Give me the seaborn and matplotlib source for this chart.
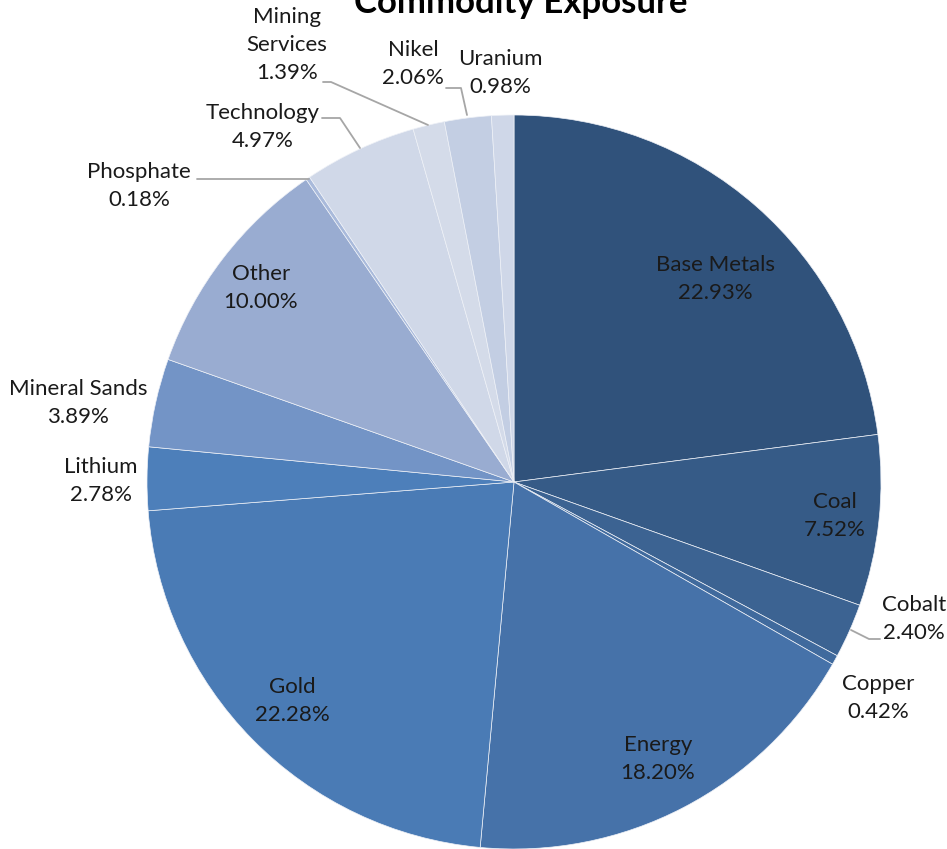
import numpy as np
import matplotlib
matplotlib.use("Agg")
import matplotlib.pyplot as plt
import seaborn as sns

# Données du graphique (sens horaire à partir de midi)
categories = ["Base Metals", "Coal", "Cobalt", "Copper", "Energy", "Gold", "Lithium",
              "Mineral Sands", "Other", "Phosphate", "Technology", "Mining\nServices",
              "Nikel", "Uranium"]
valeurs = [22.93, 7.52, 2.40, 0.42, 18.20, 22.28, 2.78, 3.89, 10.00, 0.18, 4.97, 1.39, 2.06, 0.98]
couleurs = ["#30527b", "#365b87", "#3c6392", "#406a9d", "#4672a9", "#4a7bb5", "#4d7fba",
            "#7394c6", "#99acd1", "#a9badb", "#d0d8e8", "#d4dbe9", "#c3cee3", "#cfd7e8"]

sns.set_theme(style="white")
plt.rcParams['font.family'] = ['Lato', 'DejaVu Sans']

W, H = 947, 849
fig = plt.figure(figsize=(W / 100, H / 100), dpi=100)
cx, cy, R = 514, 482, 367
ax = fig.add_axes([(cx - R) / W, (H - cy - R) / H, 2 * R / W, 2 * R / H])

wedges, _ = ax.pie(valeurs, colors=couleurs, startangle=90, counterclock=False,
                   radius=1, wedgeprops=dict(edgecolor="#eef1f7", linewidth=0.5))
ax.set_xlim(-1, 1)
ax.set_ylim(-1, 1)
ax.set_aspect("equal")
ax.axis("off")

fs = 16
ls = 1.5

def px(x, y):
    # pixel -> coordonnées données
    return (x - cx) / R, (cy - y) / R

# étiquettes intérieures : (rayon, décalage d'angle en degrés)
interieur = {"Base Metals": (0.78, -3.5), "Coal": (0.88, 0), "Energy": (0.85, 0),
             "Gold": (0.85, 0), "Other": (0.87, 0)}

# étiquettes extérieures : position du texte (px) et ligne de rappel (px)
exterieur = {
    "Cobalt": ((914, 619), [(880, 639), (869, 639), (851, 630)]),
    "Copper": ((878, 698), None),
    "Lithium": ((101, 481), None),
    "Mineral Sands": ((78, 403), None),
    "Phosphate": ((139, 186), [(197, 179), (309, 179)]),
    "Technology": ((263, 127), [(322, 118), (340, 118), (360, 148)]),
    "Mining\nServices": ((287, 45), [(323, 82), (331, 82), (428, 125)]),
    "Nikel": ((413, 64), [(446, 88), (461, 88), (467, 115)]),
    "Uranium": ((500, 73), None),
}

for w, nom, v in zip(wedges, categories, valeurs):
    texte = f"{nom}\n{v:.2f}%"
    if nom in interieur:
        r, da = interieur[nom]
        ang = np.deg2rad((w.theta1 + w.theta2) / 2 + da)
        ax.text(r * np.cos(ang), r * np.sin(ang), texte, ha="center", va="center",
                fontsize=fs, color="#1a1a1a", linespacing=ls)
    else:
        (tx, ty), ligne = exterieur[nom]
        x, y = px(tx, ty)
        ax.text(x, y, texte, ha="center", va="center", fontsize=fs,
                color="#1a1a1a", linespacing=ls, clip_on=False)
        if ligne:
            pts = np.array([px(a, b) for a, b in ligne])
            ax.plot(pts[:, 0], pts[:, 1], color="#a6a6a6", lw=1.3, clip_on=False)

fig.text(521 / W, 1 - 3 / H, "Commodity Exposure", ha="center", va="center",
         fontsize=25, fontweight="bold", color="black")

fig.savefig("out.png", dpi=100)
